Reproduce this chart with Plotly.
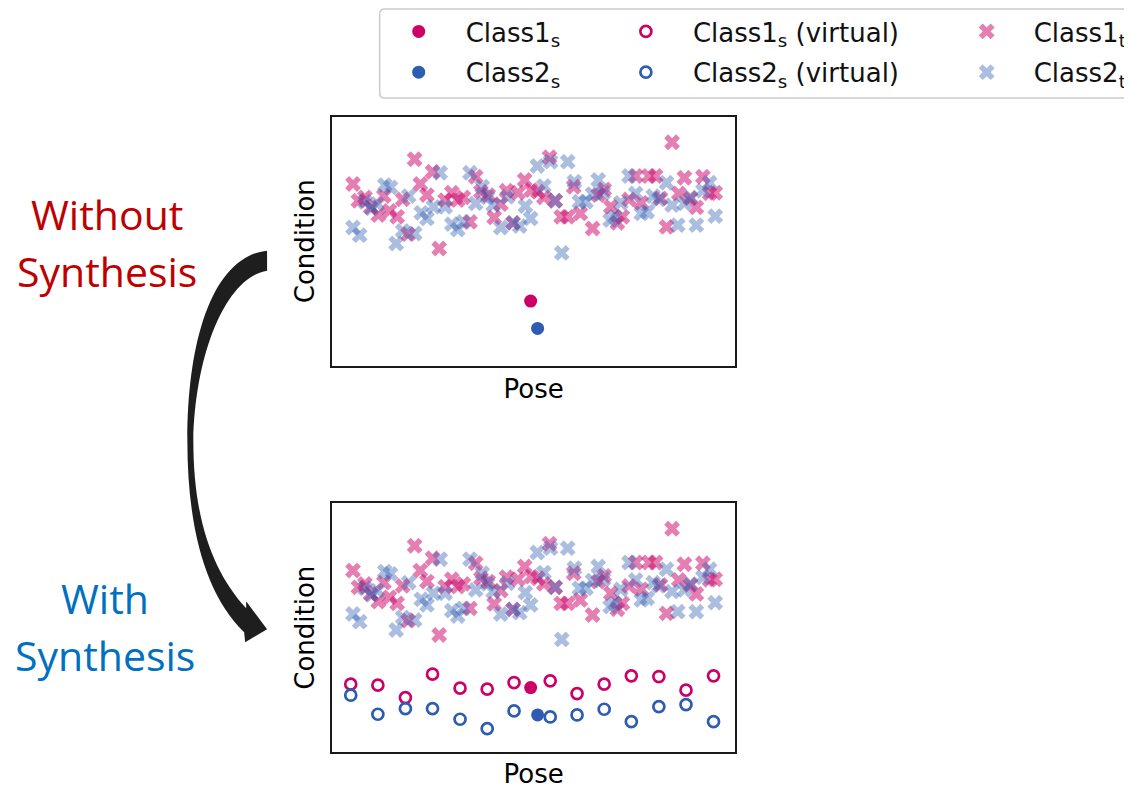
import plotly.graph_objects as go

# page body has an 8px margin -> figure drawn from (8, 8)
OFF = 8
W, H = 1132 - OFF, 789 - OFF

# ---------------- data ----------------
c1t_x = [21.3, 83.3, 101.3, 26.7, 33.3, 46.7, 58, 65.7, 52.3, 71.3, 89, 95.7, 76.7, 108, 114, 120.7,
         126.7, 132.3, 139, 144.7, 150, 157.3, 163.3, 170, 175.7, 182.3, 187.3, 194, 200.7, 207.3,
         213.3, 219, 224.7, 230.7, 237.3, 243.3, 250, 262.3, 268, 274, 280.7, 287.3, 292.3, 299,
         305.7, 311.3, 319, 325.7, 330.7, 336.7, 342.3, 349, 354.7, 360.7, 366.7, 373.3, 380,
         385.7, 39]
c1t_y = [181, 205.7, 193.3, 164.3, 167.7, 150, 154.3, 148.3, 169, 165.7, 181, 170, 131, 116.7, 165,
         172.3, 165, 167.7, 143.3, 188.3, 173.3, 170, 147.7, 161, 174.3, 142.3, 172.3, 185, 175,
         173.3, 167.7, 207.7, 164.3, 148.3, 148.3, 178.3, 151.7, 136.7, 170, 175.7, 158.3, 142.3,
         148.3, 165.7, 189, 162.3, 189, 189, 166.7, 138.3, 222.7, 171.7, 187.3, 166.7, 157.7,
         188.3, 171.7, 172.3, 157.7]

c2t_x = [21.3, 28, 33.3, 40, 53.3, 59, 45.7, 64.7, 71.3, 77.3, 83.3, 90, 95.7, 102.3, 109, 114,
         120.7, 126.7, 132.3, 139, 144.7, 151.3, 156.7, 162.3, 170, 176.7, 182.3, 189, 194.7, 200,
         206.7, 213.3, 220, 224.7, 231.3, 237.3, 244, 249, 255.7, 262.3, 268, 273.3, 280, 284.7,
         290.7, 299, 305.7, 311.3, 317.3, 323.3, 329, 336.7, 342.3, 348, 354.7, 360.7, 366.7,
         373.3, 380, 385.7]
c2t_y = [137.7, 130, 163.3, 156.7, 180, 177.7, 161, 121.7, 134.3, 169, 131.7, 152.3, 146.7, 158.3,
         192.3, 158.3, 141, 135.7, 143.3, 192.3, 161.7, 178.3, 167.7, 160, 137.7, 168.3, 142.3, 139,
         159, 146.7, 199, 179, 203.3, 164.3, 112.3, 203.3, 183.3, 163.3, 163.3, 171, 185, 172.3,
         145, 148.3, 162.3, 189, 171.7, 151.7, 153.3, 169, 165.7, 182.3, 160, 140, 161.7, 167.7,
         140, 174.3, 182.3, 149]

c1s_x = [200]
c1s_y = [64.3]
c2s_x = [207]
c2s_y = [37]

virt_x = [19, 46.3, 74, 101.3, 129, 156.3, 183.3, 219.7, 246.7, 274, 301.3, 329, 356.3, 384]
c1v_y = [67.7, 66.7, 54.3, 77.7, 63.7, 62.7, 69.3, 71, 58.3, 67.7, 76, 75.3, 61.7, 76]
c2v_y = [56.7, 37.7, 43.3, 43.3, 32.7, 23.3, 41, 35, 37, 42.7, 30.3, 45.3, 47.3, 30.3]

X_RANGE = [0, 406]
Y_RANGE = [0, 248]

# ---------------- styling ----------------
PINK = "#cc0066"
BLUE = "#2d5cb0"
FONT = "DejaVu Sans"


def px(x):
    return (x - OFF) / W


def py(y):
    return 1 - (y - OFF) / H


fig = go.Figure()

cross = dict(symbol="x", size=14, line=dict(width=0))

for row, (xa, ya) in enumerate([("x", "y"), ("x2", "y2")]):
    show = row == 0
    fig.add_trace(go.Scatter(x=c1t_x, y=c1t_y, mode="markers", xaxis=xa, yaxis=ya,
                             marker=dict(color=PINK, opacity=0.5, **cross),
                             name="Class1<sub>t</sub>", showlegend=show, legend="legend3",
                             legendgroup="c1t"))
    fig.add_trace(go.Scatter(x=c2t_x, y=c2t_y, mode="markers", xaxis=xa, yaxis=ya,
                             marker=dict(color=BLUE, opacity=0.4, **cross),
                             name="Class2<sub>t</sub>", showlegend=show, legend="legend3",
                             legendgroup="c2t"))

# virtual samples only in bottom plot
fig.add_trace(go.Scatter(x=virt_x, y=c1v_y, mode="markers", xaxis="x2", yaxis="y2",
                         marker=dict(symbol="circle-open", size=11, color=PINK, line=dict(width=2.7, color=PINK)),
                         name="Class1<sub>s</sub> (virtual)", legend="legend2", legendgroup="c1v"))
fig.add_trace(go.Scatter(x=virt_x, y=c2v_y, mode="markers", xaxis="x2", yaxis="y2",
                         marker=dict(symbol="circle-open", size=11, color=BLUE, line=dict(width=2.7, color=BLUE)),
                         name="Class2<sub>s</sub> (virtual)", legend="legend2", legendgroup="c2v"))

for row, (xa, ya) in enumerate([("x", "y"), ("x2", "y2")]):
    show = row == 0
    fig.add_trace(go.Scatter(x=c1s_x, y=c1s_y, mode="markers", xaxis=xa, yaxis=ya,
                             marker=dict(symbol="circle", size=13, color=PINK),
                             name="Class1<sub>s</sub>", showlegend=show, legend="legend",
                             legendgroup="c1s"))
    fig.add_trace(go.Scatter(x=c2s_x, y=c2s_y, mode="markers", xaxis=xa, yaxis=ya,
                             marker=dict(symbol="circle", size=13, color=BLUE),
                             name="Class2<sub>s</sub>", showlegend=show, legend="legend",
                             legendgroup="c2s"))

axis_common = dict(showline=True, mirror=True, linecolor="#1a1a1a", linewidth=2,
                   showgrid=False, zeroline=False, showticklabels=False, ticks="",
                   fixedrange=True)
title_font = dict(family=FONT, size=26, color="black")

dom_x = [px(333), px(738)]
fig.update_layout(
    width=W, height=H,
    margin=dict(l=0, r=0, t=0, b=0),
    paper_bgcolor="white", plot_bgcolor="white",
    xaxis=dict(domain=dom_x, range=X_RANGE, anchor="y",
               title=dict(text="Pose", font=title_font, standoff=13), **axis_common),
    yaxis=dict(domain=[py(365), py(116)], range=Y_RANGE, anchor="x",
               title=dict(text="Condition", font=title_font, standoff=8), **axis_common),
    xaxis2=dict(domain=dom_x, range=X_RANGE, anchor="y2",
                title=dict(text="Pose", font=title_font, standoff=13), **axis_common),
    yaxis2=dict(domain=[py(752), py(503)], range=Y_RANGE, anchor="x2",
                title=dict(text="Condition", font=title_font, standoff=8), **axis_common),
    showlegend=True,
)

leg_common = dict(orientation="v", bgcolor="rgba(0,0,0,0)", borderwidth=0,
                  font=dict(family=FONT, size=26, color="#111"),
                  yanchor="top", y=py(7), tracegroupgap=4, itemclick=False,
                  itemdoubleclick=False, itemwidth=84)
fig.update_layout(
    legend=dict(x=px(373), **leg_common),
    legend2=dict(x=px(601), **leg_common),
    legend3=dict(x=px(943), **leg_common),
)

# legend frame
x0, x1, y0, y1, r = 381, 1150, 8, 97, 5
frame = (f"M {px(x0 + r)},{py(y0)} L {px(x1)},{py(y0)} L {px(x1)},{py(y1)} "
         f"L {px(x0 + r)},{py(y1)} Q {px(x0)},{py(y1)} {px(x0)},{py(y1 - r)} "
         f"L {px(x0)},{py(y0 + r)} Q {px(x0)},{py(y0)} {px(x0 + r)},{py(y0)} Z")
fig.add_shape(type="path", xref="paper", yref="paper", path=frame,
              line=dict(color="#cccccc", width=1.5), fillcolor="rgba(0,0,0,0)", layer="below")


# curved arrow (pixel coordinates converted to paper)
def P(x, y):
    return f"{px(x)},{py(y)}"


arrow = (f"M {P(268, 250)} L {P(268, 270)} "
         f"C {P(228, 276)} {P(196, 350)} {P(194, 440)} "
         f"C {P(194, 520)} {P(214, 572)} {P(247, 608)} "
         f"L {P(247, 601)} L {P(268, 629)} L {P(246, 642)} L {P(245, 632)} "
         f"C {P(207, 595)} {P(188, 530)} {P(188, 440)} "
         f"C {P(188, 340)} {P(213, 256)} {P(268, 250)} Z")
fig.add_shape(type="path", xref="paper", yref="paper", path=arrow,
              line=dict(width=0), fillcolor="#1e1e1e")

lab_font = "Open Sans"
for text, x, y, color in [("Without", 107, 213, "#c00000"), ("Synthesis", 107, 270, "#c00000"),
                          ("With", 105, 598, "#0070c0"), ("Synthesis", 105, 655, "#0070c0")]:
    fig.add_annotation(x=px(x), y=py(y), xref="paper", yref="paper", showarrow=False,
                       xanchor="center", yanchor="middle", text=text,
                       font=dict(family=lab_font, size=41, color=color))

fig.write_html("out.html")
